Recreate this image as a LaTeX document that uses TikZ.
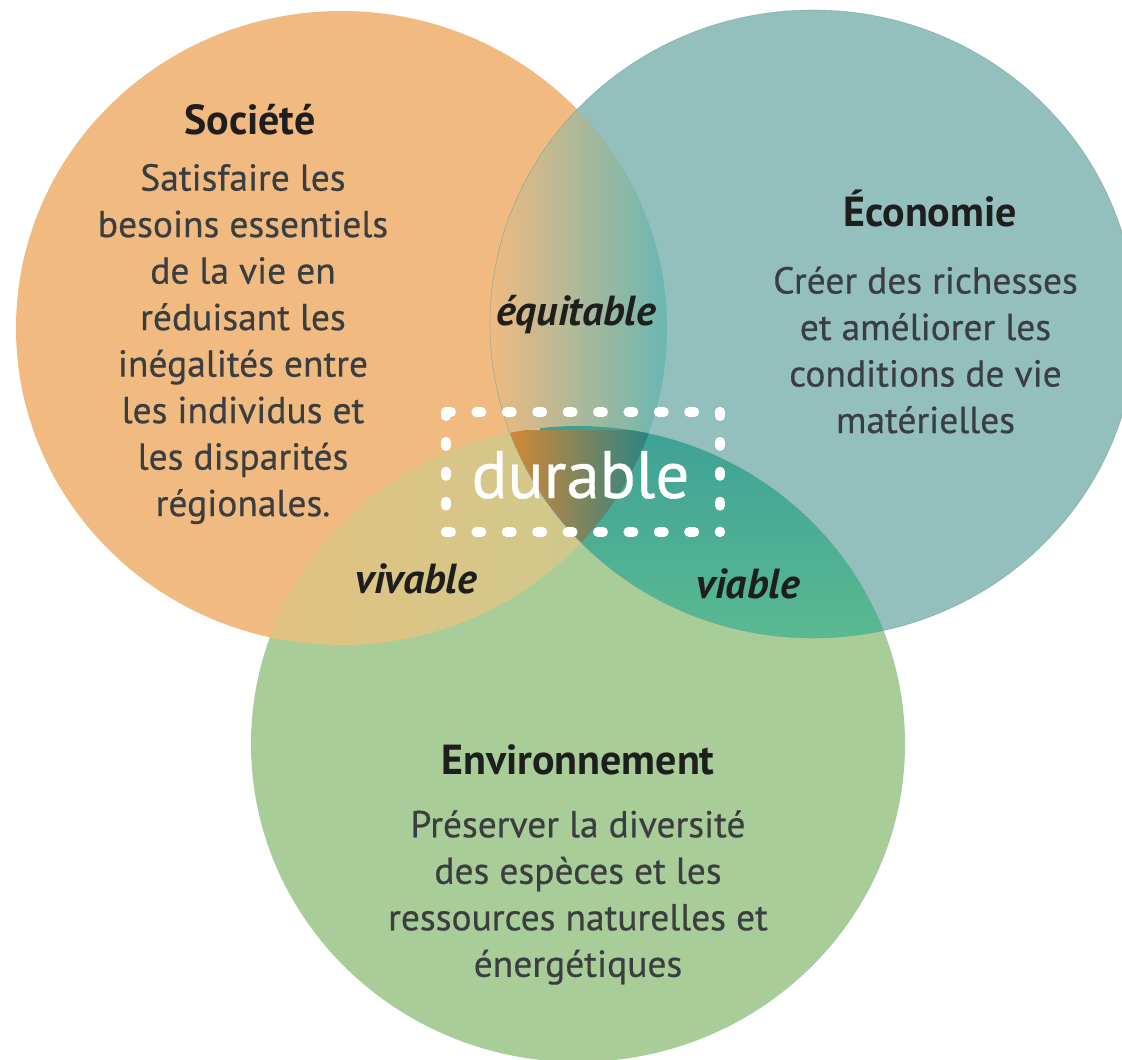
\documentclass[tikz,border=0pt]{standalone}
\usepackage{fontspec}
\setmainfont{PT Sans}
\newfontfamily\medfont{PT Sans}[FakeBold=0.5]
\definecolor{orangeC}{RGB}{240,186,128}
\definecolor{tealC}{RGB}{147,191,188}
\definecolor{tealD}{RGB}{110,160,160}
\definecolor{greenC}{RGB}{168,205,152}
\definecolor{eqR}{RGB}{105,183,178}
\definecolor{vivL}{RGB}{226,194,128}
\definecolor{vivR}{RGB}{208,200,140}
\definecolor{viaT}{RGB}{62,160,150}
\definecolor{viaB}{RGB}{92,188,145}
\definecolor{triL}{RGB}{218,135,50}
\definecolor{triM}{RGB}{140,140,90}
\definecolor{triR}{RGB}{35,132,135}
\definecolor{bodyC}{RGB}{58,62,64}
\definecolor{titleC}{RGB}{30,30,30}
\tikzset{
  body/.style={font=\medfont\fontsize{37.5}{46.5}\selectfont, text=bodyC, align=center, inner sep=0pt},
  title/.style={font=\fontsize{42}{46}\selectfont\bfseries, text=titleC, inner sep=0pt, anchor=base},
  lens/.style={font=\fontsize{42}{46}\selectfont\bfseries\itshape, text=titleC, inner sep=0pt, anchor=base},
  dotline/.style={white, line width=10pt, line cap=round}
}
\begin{document}
\begin{tikzpicture}[x=1pt,y=-1pt]
\useasboundingbox (0,0) rectangle (1122,1060);
\clip (0,0) rectangle (1122,1060);
% base discs
\fill[orangeC] (341.5,328) ellipse [x radius=325.5, y radius=317];
\fill[tealC] (813,324) ellipse [x radius=323, y radius=314];
\fill[greenC] (578,744) ellipse [x radius=327, y radius=318];
% orange & teal
\begin{scope}
  \clip (341.5,328) ellipse [x radius=325.5, y radius=317];
  \clip (813,324) ellipse [x radius=323, y radius=314];
  \shade[left color=orangeC, right color=eqR] (490,0) rectangle (668,700);
\end{scope}
% orange & green
\begin{scope}
  \clip (341.5,328) ellipse [x radius=325.5, y radius=317];
  \clip (578,744) ellipse [x radius=327, y radius=318];
  \shade[left color=vivL, right color=vivR] (250,400) rectangle (600,700);
\end{scope}
% teal & green
\begin{scope}
  \clip (813,324) ellipse [x radius=323, y radius=314];
  \clip (578,744) ellipse [x radius=327, y radius=318];
  \shade[top color=viaT, bottom color=viaB] (540,420) rectangle (910,660);
\end{scope}
% all three
\begin{scope}
  \clip (341.5,328) ellipse [x radius=325.5, y radius=317];
  \clip (813,324) ellipse [x radius=323, y radius=314];
  \clip (578,744) ellipse [x radius=327, y radius=318];
  \shade[left color=triL, middle color=triM, right color=triR] (505,430) rectangle (655,550);
\end{scope}
% thin edges
\draw[tealD, line width=0.6pt, opacity=0.6] (813,324) ellipse [x radius=323, y radius=314];
% dotted frame
\draw[dotline, dash pattern=on 5pt off 25.4pt] (446,412) -- (720,412);
\draw[dotline, dash pattern=on 5pt off 25.4pt] (446,532) -- (720,532);
\draw[dotline, dash pattern=on 4pt off 25.9pt] (446,412) -- (446,532);
\draw[dotline, dash pattern=on 4pt off 25.9pt] (720,412) -- (720,532);
% texts
\node[title] (soc) at (250,134) {Société};
\node[body] (socb) at (243,344) {Satisfaire les\\besoins essentiels\\de la vie en\\réduisant les\\inégalités entre\\les individus et\\les disparités\\régionales.};
\node[title] (eco) at (930,226) {Économie};
\node[body] (ecob) at (925.5,350) {Créer des richesses\\et améliorer les\\conditions de vie\\matérielles};
\node[title] (env) at (578,774) {Environnement};
\node[body] (envb) at (578,897.5) {Préserver la diversité\\des espèces et les\\ressources naturelles et\\énergétiques};
\node[lens] (equ) at (576,325) {équitable};
\node[lens] (viv) at (416,593) {vivable};
\node[lens] (via) at (748,598) {viable};
\node[font=\medfont\fontsize{67}{72}\selectfont, text=white, inner sep=0pt, anchor=base] (dur) at (580.5,498) {durable};
\end{tikzpicture}
\end{document}
